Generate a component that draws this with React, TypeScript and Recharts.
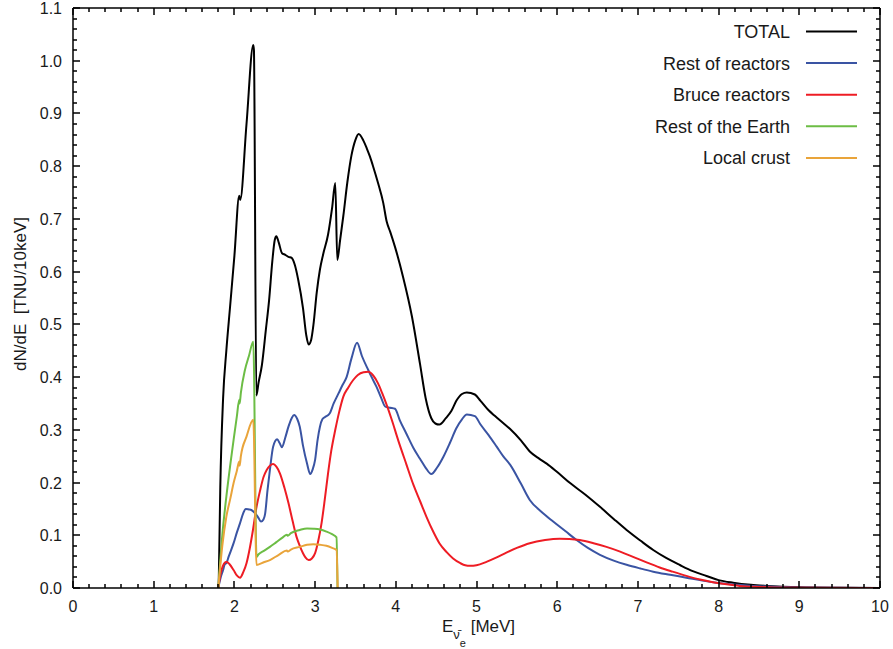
import React from 'react';
import { LineChart, Line, XAxis, YAxis, Legend } from 'recharts';

type P = { x: number; y: number };
const pts = (a: number[][]): P[] => a.map(([x, y]) => ({ x, y }));

const totalData = pts([
  [1.805, 0], [1.825, 0.19], [1.86, 0.36], [1.9, 0.45], [1.945, 0.531], [2.0, 0.63], [2.06, 0.744], [2.072, 0.736],
  [2.15, 0.88], [2.234, 1.03], [2.242, 1.02], [2.272, 0.365], [2.3, 0.39], [2.34, 0.422], [2.39, 0.49], [2.43, 0.546],
  [2.47, 0.62], [2.5, 0.66], [2.52, 0.667], [2.55, 0.655], [2.59, 0.635], [2.63, 0.632], [2.67, 0.628], [2.71, 0.626],
  [2.75, 0.612], [2.79, 0.585], [2.85, 0.531], [2.89, 0.48], [2.92, 0.462], [2.95, 0.47], [2.98, 0.5], [3.02, 0.56],
  [3.06, 0.604], [3.1, 0.633], [3.16, 0.67], [3.21, 0.72], [3.25, 0.768], [3.275, 0.622], [3.31, 0.66], [3.35, 0.706],
  [3.4, 0.77], [3.45, 0.82], [3.5, 0.85], [3.54, 0.861], [3.6, 0.848], [3.64, 0.834], [3.68, 0.818], [3.72, 0.799],
  [3.78, 0.768], [3.845, 0.73], [3.887, 0.695], [3.93, 0.676], [3.99, 0.647], [4.09, 0.59], [4.2, 0.515], [4.3, 0.425],
  [4.37, 0.36], [4.44, 0.322], [4.49, 0.312], [4.54, 0.31], [4.62, 0.322], [4.69, 0.336], [4.75, 0.355], [4.82, 0.368],
  [4.88, 0.371], [4.98, 0.367], [5.05, 0.355], [5.15, 0.337], [5.23, 0.326], [5.33, 0.313], [5.42, 0.301], [5.55, 0.28],
  [5.66, 0.259], [5.78, 0.245], [5.87, 0.236], [6.0, 0.22], [6.16, 0.199], [6.35, 0.177], [6.53, 0.154], [6.7, 0.131],
  [6.86, 0.11], [7.03, 0.09], [7.19, 0.072], [7.35, 0.057], [7.52, 0.0436], [7.68, 0.032], [7.85, 0.0228], [8.0, 0.015],
  [8.18, 0.01], [8.4, 0.006], [8.6, 0.004], [9.0, 0.0015], [9.5, 0.0005], [10, 0],
]);

const restReactorsData = pts([
  [1.8, 0], [1.83, 0.02], [1.86, 0.034], [1.88, 0.045], [1.9, 0.047], [1.93, 0.06], [1.99, 0.085], [2.03, 0.105],
  [2.07, 0.123], [2.11, 0.142], [2.14, 0.15], [2.18, 0.149], [2.21, 0.148], [2.255, 0.142], [2.29, 0.135], [2.33, 0.126],
  [2.36, 0.13], [2.38, 0.14], [2.41, 0.185], [2.44, 0.224], [2.48, 0.268], [2.53, 0.282], [2.56, 0.275], [2.59, 0.267],
  [2.63, 0.285], [2.67, 0.306], [2.71, 0.322], [2.74, 0.328], [2.78, 0.32], [2.81, 0.306], [2.85, 0.27], [2.9, 0.236],
  [2.94, 0.216], [2.97, 0.225], [3.0, 0.243], [3.03, 0.28], [3.06, 0.306], [3.09, 0.32], [3.12, 0.324], [3.18, 0.331],
  [3.23, 0.35], [3.29, 0.369], [3.34, 0.385], [3.39, 0.4], [3.45, 0.435], [3.52, 0.465], [3.58, 0.44], [3.66, 0.413],
  [3.71, 0.397], [3.76, 0.382], [3.82, 0.36], [3.87, 0.344], [3.93, 0.342], [3.99, 0.34], [4.05, 0.318], [4.13, 0.293],
  [4.22, 0.265], [4.3, 0.245], [4.37, 0.228], [4.44, 0.216], [4.51, 0.228], [4.59, 0.249], [4.67, 0.275], [4.75, 0.303],
  [4.82, 0.32], [4.88, 0.329], [4.98, 0.326], [5.05, 0.31], [5.15, 0.29], [5.25, 0.268], [5.33, 0.25], [5.42, 0.233],
  [5.55, 0.198], [5.66, 0.167], [5.8, 0.145], [5.95, 0.126], [6.1, 0.108], [6.24, 0.091], [6.38, 0.076], [6.53, 0.063],
  [6.7, 0.052], [6.86, 0.044], [7.03, 0.037], [7.19, 0.031], [7.4, 0.025], [7.6, 0.0196], [7.8, 0.014], [8.02, 0.009],
  [8.43, 0.004], [9.0, 0.001], [10, 0],
]);

const bruceData = pts([
  [1.8, 0], [1.82, 0.02], [1.84, 0.034], [1.87, 0.046], [1.9, 0.05], [1.94, 0.045], [1.99, 0.034], [2.03, 0.024],
  [2.07, 0.0196], [2.11, 0.03], [2.15, 0.047], [2.19, 0.075], [2.23, 0.11], [2.27, 0.15], [2.32, 0.186], [2.36, 0.21],
  [2.4, 0.224], [2.44, 0.232], [2.48, 0.235], [2.52, 0.23], [2.565, 0.217], [2.62, 0.19], [2.67, 0.161], [2.72, 0.128],
  [2.77, 0.097], [2.81, 0.08], [2.85, 0.066], [2.88, 0.058], [2.92, 0.053], [2.96, 0.056], [3.0, 0.066], [3.04, 0.09],
  [3.08, 0.123], [3.12, 0.168], [3.16, 0.217], [3.2, 0.26], [3.25, 0.3], [3.3, 0.335], [3.35, 0.363], [3.41, 0.38],
  [3.47, 0.394], [3.53, 0.404], [3.6, 0.409], [3.66, 0.41], [3.72, 0.403], [3.78, 0.388], [3.83, 0.37], [3.88, 0.35],
  [3.95, 0.319], [4.03, 0.28], [4.13, 0.235], [4.22, 0.195], [4.3, 0.165], [4.38, 0.135], [4.46, 0.108], [4.54, 0.085],
  [4.63, 0.068], [4.71, 0.056], [4.8, 0.047], [4.86, 0.043], [4.92, 0.042], [5.0, 0.043], [5.13, 0.05], [5.25, 0.058],
  [5.37, 0.067], [5.5, 0.076], [5.66, 0.085], [5.85, 0.091], [6.03, 0.0935], [6.15, 0.093], [6.28, 0.091], [6.45, 0.085],
  [6.61, 0.078], [6.78, 0.069], [6.94, 0.059], [7.1, 0.049], [7.27, 0.039], [7.43, 0.031], [7.6, 0.023], [7.77, 0.016],
  [7.93, 0.011], [8.1, 0.007], [8.26, 0.004], [8.5, 0.002], [8.68, 0.001], [9.2, 0.0003], [10, 0],
]);

const restEarthData = pts([
  [1.8, 0], [1.85, 0.1], [1.9, 0.173], [1.95, 0.235], [1.99, 0.281], [2.03, 0.325], [2.06, 0.357], [2.065, 0.35],
  [2.08, 0.37], [2.13, 0.413], [2.18, 0.44], [2.234, 0.467], [2.274, 0.059], [2.3, 0.064], [2.37, 0.071], [2.44, 0.078],
  [2.52, 0.087], [2.6, 0.096], [2.65, 0.101], [2.66, 0.099], [2.7, 0.104], [2.81, 0.11], [2.9, 0.113], [2.98, 0.1125],
  [3.06, 0.111], [3.14, 0.107], [3.21, 0.102], [3.265, 0.096], [3.278, 0],
]);

const localCrustData = pts([
  [1.8, 0], [1.85, 0.08], [1.9, 0.135], [1.95, 0.17], [1.99, 0.199], [2.03, 0.222], [2.06, 0.24], [2.065, 0.232],
  [2.08, 0.25], [2.15, 0.287], [2.234, 0.319], [2.274, 0.0436], [2.35, 0.048], [2.44, 0.053], [2.55, 0.063], [2.65, 0.071],
  [2.66, 0.069], [2.7, 0.073], [2.81, 0.078], [2.9, 0.082], [2.98, 0.083], [3.06, 0.082], [3.14, 0.08], [3.21, 0.076],
  [3.265, 0.072], [3.28, 0],
]);

const seriesNames = ['TOTAL', 'Rest of reactors', 'Bruce reactors', 'Rest of the Earth', 'Local crust'];
const seriesColors = ['#000000', '#3a54a3', '#ee1c24', '#6cbd45', '#e9a43a'];
const seriesData = [totalData, restReactorsData, bruceData, restEarthData, localCrustData];

const xTicks = Array.from({ length: 51 }, (_, i) => Math.round(i * 2) / 10);
const yTicks = Array.from({ length: 56 }, (_, i) => Math.round(i * 2) / 100);

const FONT = '"Liberation Sans", Arial, Helvetica, sans-serif';
const TXT = '#1a1a1a';

// layout constants
const W = 893;
const H = 649;
const MARGIN = { top: 7, right: 12, bottom: 0, left: 0 };
const XAXIS_H = 61;
const YAXIS_W = 73;
const TOP_H = 1;
const RIGHT_W = 1;
const PLOT_LEFT = MARGIN.left + YAXIS_W;
const PLOT_RIGHT = W - MARGIN.right - RIGHT_W;
const PLOT_TOP = MARGIN.top + TOP_H;
const PLOT_BOTTOM = H - MARGIN.bottom - XAXIS_H;

const makeXTick = (side: 'bottom' | 'top') => (props: any) => {
  const { x, payload, index } = props;
  const major = Number(index) % 5 === 0;
  const len = major ? 7 : 4;
  const px = Math.round(Number(x));
  const ry = side === 'bottom' ? PLOT_BOTTOM - len : PLOT_TOP;
  return (
    <g>
      <rect x={px - 0.75} y={ry} width={1.5} height={len} fill="#000" stroke="none" />
      {side === 'bottom' && major && (
        <text x={x} y={PLOT_BOTTOM + 24} textAnchor="middle" fontSize={16} fontFamily={FONT} fill={TXT} stroke="none">
          {Math.round(payload.value)}
        </text>
      )}
    </g>
  );
};

const makeYTick = (side: 'left' | 'right') => (props: any) => {
  const { y, payload, index } = props;
  const major = Number(index) % 5 === 0;
  const len = major ? 7 : 4;
  const py = Math.round(Number(y));
  const rx = side === 'left' ? PLOT_LEFT : PLOT_RIGHT - len;
  return (
    <g>
      <rect x={rx} y={py - 0.75} width={len} height={1.5} fill="#000" stroke="none" />
      {side === 'left' && major && (
        <text x={PLOT_LEFT - 11} y={py + 6} textAnchor="end" fontSize={16} fontFamily={FONT} fill={TXT} stroke="none">
          {Number(payload.value).toFixed(1)}
        </text>
      )}
    </g>
  );
};

const LegendBox = () => (
  <svg width={W} height={180} style={{ display: 'block' }}>
    {seriesNames.map((n, i) => {
      const cy = 31.5 + i * 31.6;
      return (
        <g key={n}>
          <text x={790} y={cy + 6.5} textAnchor="end" fontSize={18} fontFamily={FONT} fill={TXT}>
            {n}
          </text>
          <line x1={806} x2={857} y1={cy} y2={cy} stroke={seriesColors[i]} strokeWidth={2} />
        </g>
      );
    })}
  </svg>
);

const XTitle = () => (
  <text x={442} y={632} fontSize={17} fontFamily={FONT} fill={TXT}>
    E
    <tspan dy={7} fontSize={13}>{'\u03BD\u0304'}</tspan>
    <tspan dy={8} fontSize={11}>e</tspan>
    <tspan dy={-15} fontSize={17}>{'\u00A0[MeV]'}</tspan>
  </text>
);

const YTitle = () => (
  <text
    x={26}
    y={294}
    transform="rotate(-90, 26, 294)"
    textAnchor="middle"
    fontSize={17}
    fontFamily={FONT}
    fill={TXT}
  >
    {'dN/dE\u00A0\u00A0[TNU/10keV]'}
  </text>
);

const axisLineStyle = { stroke: '#000', strokeWidth: 1.5 };

export default function App() {
  return (
    <div style={{ position: 'absolute', left: 0, top: 0, width: W, height: H, background: '#fff' }}>
      <LineChart width={W} height={H} margin={MARGIN}>
        <XAxis
          xAxisId="b"
          type="number"
          dataKey="x"
          domain={[0, 10]}
          allowDataOverflow
          ticks={xTicks}
          interval={0}
          height={XAXIS_H}
          tickSize={0}
          tickMargin={0}
          tickLine={false}
          axisLine={axisLineStyle}
          tick={makeXTick('bottom')}
          label={{ content: () => <XTitle /> }}
        />
        <XAxis
          xAxisId="t"
          orientation="top"
          type="number"
          dataKey="x"
          domain={[0, 10]}
          allowDataOverflow
          ticks={xTicks}
          interval={0}
          height={TOP_H}
          tickSize={0}
          tickMargin={0}
          tickLine={false}
          axisLine={axisLineStyle}
          tick={makeXTick('top')}
        />
        <YAxis
          yAxisId="l"
          type="number"
          domain={[0, 1.1]}
          allowDataOverflow
          ticks={yTicks}
          interval={0}
          width={YAXIS_W}
          tickSize={0}
          tickMargin={0}
          tickLine={false}
          axisLine={axisLineStyle}
          tick={makeYTick('left')}
          label={{ content: () => <YTitle /> }}
        />
        <YAxis
          yAxisId="r"
          orientation="right"
          type="number"
          domain={[0, 1.1]}
          allowDataOverflow
          ticks={yTicks}
          interval={0}
          width={RIGHT_W}
          tickSize={0}
          tickMargin={0}
          tickLine={false}
          axisLine={axisLineStyle}
          tick={makeYTick('right')}
        />
        {seriesData.map((d, i) => (
          <Line
            key={seriesNames[i]}
            xAxisId="b"
            yAxisId="l"
            data={d}
            dataKey="y"
            name={seriesNames[i]}
            type="monotone"
            stroke={seriesColors[i]}
            strokeWidth={2}
            dot={false}
            activeDot={false}
            isAnimationActive={false}
          />
        ))}
        <Legend
          layout="horizontal"
          verticalAlign="middle"
          align="center"
          wrapperStyle={{ top: 0, left: 0, width: W, height: 180, pointerEvents: 'none' }}
          content={() => <LegendBox />}
        />
      </LineChart>
    </div>
  );
}
